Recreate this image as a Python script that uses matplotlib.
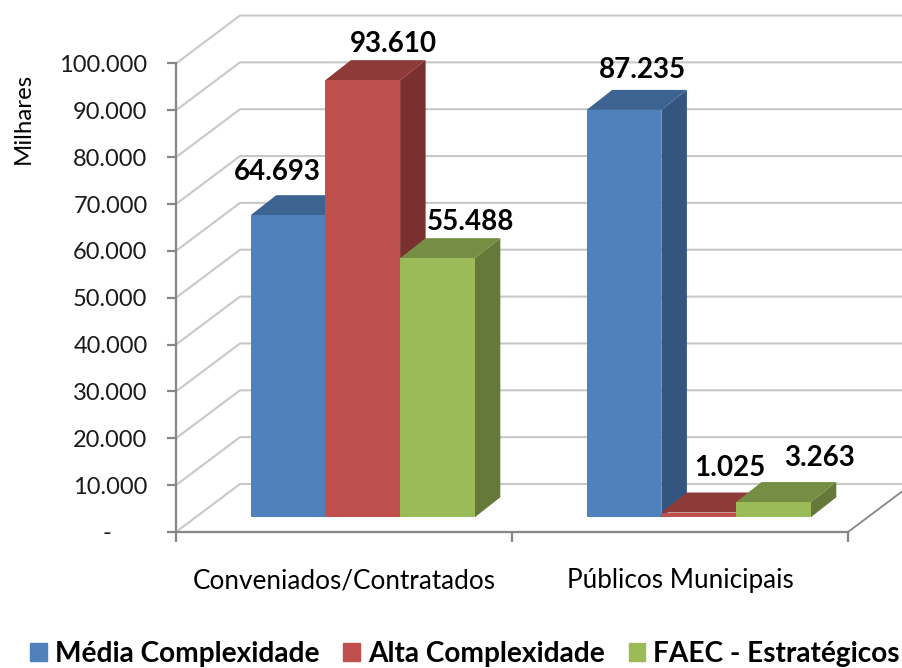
import matplotlib
matplotlib.use("Agg")
import matplotlib.pyplot as plt
from matplotlib.patches import Polygon, Patch

plt.rcParams['font.family'] = ['Lato', 'DejaVu Sans']

categories = ["Conveniados/Contratados", "Públicos Municipais"]
series_names = ["Média Complexidade", "Alta Complexidade", "FAEC - Estratégicos"]
media = [64693, 87235]
alta = [93610, 1025]
faec = [55488, 3263]
y_ticks = [0, 10000, 20000, 30000, 40000, 50000, 60000, 70000, 80000, 90000, 100000]
y_tick_labels = ["-      ", "10.000", "20.000", "30.000", "40.000", "50.000",
                 "60.000", "70.000", "80.000", "90.000", "100.000"]

W, H = 903, 668
fig = plt.figure(figsize=(W / 100, H / 100), dpi=100, facecolor="white")

def box(l, r, top, bottom):
    return [l / W, 1 - bottom / H, (r - l) / W, (bottom - top) / H]

# Front plane with axes, gridlines
ax = fig.add_axes(box(176, 848, 63.5, 532))
ax.set_xlim(0, 2)
ax.set_ylim(0, 100000)
ax.patch.set_visible(False)
for s in ("top", "right"):
    ax.spines[s].set_visible(False)
for s in ("left", "bottom"):
    ax.spines[s].set_color("#868686")
    ax.spines[s].set_linewidth(1.6)

wall_dx = 64 / 336
wall_dy = 48 / (468.5 / 100000)
for v in y_ticks:
    ax.plot([0, wall_dx, 2.4], [v, v + wall_dy, v + wall_dy], color="#C8C8C8",
            lw=1.5, clip_on=False, zorder=1, solid_joinstyle="miter")
ax.plot([2, 2 + wall_dx], [0, wall_dy], color="#868686", lw=1.3, clip_on=False, zorder=1)

ax.set_yticks(y_ticks)
ax.set_yticklabels(y_tick_labels, fontsize=17, color="#1a1a1a")
ax.tick_params(axis="y", length=6.5, width=1.6, color="#868686", pad=14)
ax.set_xticks([0, 1, 2])
ax.set_xticklabels([])
ax.set_xticks([0.5, 1.5], minor=True)
ax.set_xticklabels(categories, minor=True, fontsize=18.8, color="black")
ax.tick_params(axis="x", which="major", length=7, width=1.6, color="#868686")
ax.tick_params(axis="x", which="minor", length=0, pad=26)
fig.text(23 / W, 1 - 118 / H, "Milhares", rotation=90, ha="center", va="center",
         fontsize=17.3, color="black")

# Bar plane
bx = fig.add_axes(box(194.75, 866.75, 50.3, 517.3))
bx.set_xlim(-0.5, 1.5)
bx.set_ylim(0, 100000)
bx.axis("off")

bar_w = 74.7 / 336
depth_x = 25.5 / 336
depth_y = 20 / (467 / 100000)
styles = [("#4F81BD", "#3D6392", "#335580"),
          ("#C0504D", "#8E3A38", "#7A302E"),
          ("#9BBB59", "#768E43", "#657A3A")]
label_shift = [[(-11, 43), (18, 40)], [(31, 36), (31, 45)], [(33, 36), (46, 44)]]

for k, vals in enumerate([media, alta, faec]):
    front, top, side = styles[k]
    for c, v in enumerate(vals):
        x0 = c + (k - 1.5) * bar_w
        x1 = x0 + bar_w
        z = 3 + c * 10 + k
        bx.add_patch(Polygon([(x1, 0), (x1 + depth_x, depth_y), (x1 + depth_x, v + depth_y), (x1, v)],
                             fc=side, ec="none", zorder=z, clip_on=False))
        bx.add_patch(Polygon([(x0, v), (x0 + depth_x, v + depth_y), (x1 + depth_x, v + depth_y), (x1, v)],
                             fc=top, ec="none", zorder=z, clip_on=False))
        bx.bar(x0, v, width=bar_w, align="edge", color=front, zorder=z + 0.5, clip_on=False)
        dx, dy = label_shift[k][c]
        bx.annotate(f"{v:,}".replace(",", "."), xy=(x0 + bar_w / 2, v), xytext=(dx * 0.72, dy * 0.72),
                    textcoords="offset points", ha="center", va="center",
                    fontsize=20, fontweight="bold", color="black", zorder=50, annotation_clip=False)

handles = [Patch(color=s[0]) for s in styles]
fig.legend(handles, series_names, loc="center", bbox_to_anchor=(465 / W, 1 - 654 / H),
           ncol=3, frameon=False, handlelength=0.58, handleheight=0.58,
           handletextpad=0.29, columnspacing=0.86, borderpad=0, borderaxespad=0,
           prop={"size": 20.2, "weight": "bold"})

fig.savefig("out.png", dpi=100)
